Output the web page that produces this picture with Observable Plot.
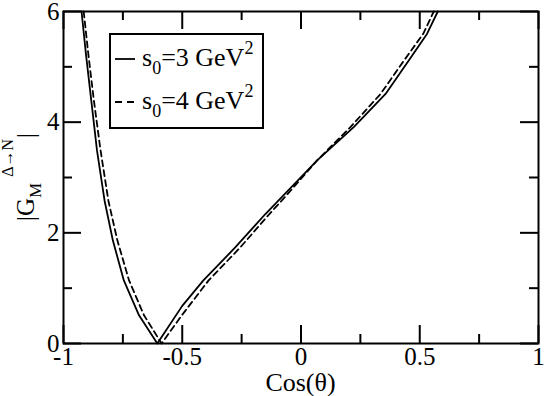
<!DOCTYPE html>
<html><head><meta charset="utf-8">
<script src="https://cdn.jsdelivr.net/npm/d3@7"></script>
<script src="https://cdn.jsdelivr.net/npm/@observablehq/plot@0.6"></script>
<style>body{margin:0;background:#fff;} svg{display:block;}</style>
</head><body><div id="chart"></div>
<script>
// Data
const solidCos = [-0.924, -0.905, -0.883, -0.859, -0.827, -0.792, -0.746, -0.682, -0.605, -0.500, -0.411, -0.276, -0.150, -0.082, 0.068, 0.222, 0.356, 0.453, 0.531, 0.576];
const solidG   = [6.00,   5.21,   4.39,   3.49,   2.58,   1.86,   1.14,   0.51,   0.00,   0.68,   1.14,   1.74,   2.34,   2.64,  3.31,  3.91,  4.51,  5.11,  5.60,  6.00];
const dashedCos = [-0.915, -0.895, -0.872, -0.844, -0.811, -0.773, -0.724, -0.661, -0.587, -0.500, -0.389, -0.255, -0.133, -0.069, 0.068, 0.208, 0.335, 0.433, 0.515, 0.559];
const dashedG   = [6.00,   5.21,   4.39,   3.49,   2.58,   1.86,   1.14,   0.51,   0.00,   0.52,   1.14,   1.74,   2.34,   2.64,  3.31,  3.91,  4.51,  5.11,  5.60,  6.00];
const xMajor = [-1, -0.5, 0, 0.5, 1];
const xMinor = [-0.75, -0.25, 0.25, 0.75];
const yMajor = [0, 2, 4, 6];
const yMinor = [1, 3, 5];
const xTitle = "Cos(θ)";
const legendS0 = ["3", "4"];

const W = 545, H = 396, mL = 63, mR = 7, mT = 11, mB = 53;
const pw = W - mL - mR, ph = H - mT - mB;
const majorLen = 18, minorLen = 9;
const font = "'Liberation Serif', 'Times New Roman', Times, serif";
const solid = solidCos.map((x, i) => ({x, y: solidG[i]}));
const dashed = dashedCos.map((x, i) => ({x, y: dashedG[i]}));
const tk = {stroke: "black", strokeWidth: 2};

const chart = Plot.plot({
  width: W, height: H,
  marginLeft: mL, marginRight: mR, marginTop: mT, marginBottom: mB,
  style: {fontFamily: font, fontSize: "25px", color: "black", background: "white", overflow: "visible"},
  x: {domain: [-1, 1]},
  y: {domain: [0, 6]},
  marks: [
    Plot.ruleX(xMajor, {...tk, insetTop: ph - majorLen}),
    Plot.ruleX(xMajor, {...tk, insetBottom: ph - majorLen}),
    Plot.ruleX(xMinor, {...tk, insetTop: ph - minorLen}),
    Plot.ruleX(xMinor, {...tk, insetBottom: ph - minorLen}),
    Plot.ruleY(yMajor, {...tk, insetRight: pw - majorLen}),
    Plot.ruleY(yMajor, {...tk, insetLeft: pw - majorLen}),
    Plot.ruleY(yMinor, {...tk, insetRight: pw - minorLen}),
    Plot.ruleY(yMinor, {...tk, insetLeft: pw - minorLen}),
    Plot.line(solid, {x: "x", y: "y", stroke: "black", strokeWidth: 1.8}),
    Plot.line(dashed, {x: "x", y: "y", stroke: "black", strokeWidth: 1.8, strokeDasharray: "6,4"}),
    Plot.frame({stroke: "black", strokeWidth: 2}),
    Plot.axisX({ticks: xMajor, tickSize: 0, tickPadding: 4, tickFormat: d => String(d), label: null, fontSize: 25, fontFamily: font}),
    Plot.axisY({ticks: yMajor, tickSize: 0, tickPadding: 4, tickFormat: d => String(d), label: null, fontSize: 25, fontFamily: font})
  ]
});
document.getElementById("chart").appendChild(chart);

const svg = d3.select(chart);

// X axis title
svg.append("text").attr("x", mL + pw / 2).attr("y", 391)
  .attr("text-anchor", "middle").attr("font-family", font).attr("font-size", 26)
  .attr("fill", "black").text(xTitle);

// Y axis title with sub/superscripts
const yt = svg.append("text")
  .attr("transform", `translate(34,${mT + ph / 2}) rotate(-90)`)
  .attr("text-anchor", "middle")
  .attr("font-family", font).attr("font-size", 25).attr("fill", "black");
yt.append("tspan").text("|G");
yt.append("tspan").attr("font-size", 17).attr("dy", 7).text("M");
yt.append("tspan").attr("font-size", 16).attr("dy", -28).attr("dx", 6).text("Δ→N");
yt.append("tspan").attr("dy", 21).attr("dx", 1).text("|");

// Legend
const lg = svg.append("g");
lg.append("rect").attr("x", 110).attr("y", 34).attr("width", 153).attr("height", 94)
  .attr("fill", "none").attr("stroke", "black").attr("stroke-width", 2);
legendS0.forEach((v, i) => {
  const ly = 59 + i * 43;
  lg.append("line").attr("x1", 115).attr("x2", 135).attr("y1", ly).attr("y2", ly)
    .attr("stroke", "black").attr("stroke-width", 1.8)
    .attr("stroke-dasharray", i === 1 ? "7,5" : null);
  const t = lg.append("text").attr("x", 142).attr("y", ly + 7)
    .attr("text-anchor", "start")
    .attr("font-family", font).attr("font-size", 26).attr("fill", "black");
  t.append("tspan").text("s");
  t.append("tspan").attr("font-size", 18).attr("dy", 8).text("0");
  t.append("tspan").attr("dy", -8).text("=" + v + " GeV");
  t.append("tspan").attr("font-size", 18).attr("dy", -12).text("2");
});
</script>
</body></html>
